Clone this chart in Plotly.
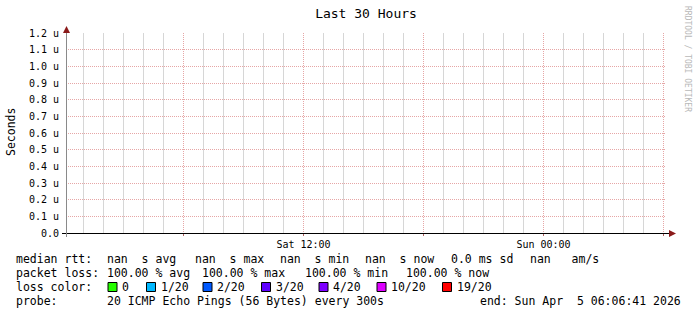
import numpy as np
import pandas as pd
import plotly.graph_objects as go

# ---------------- data ----------------
title_text = "Last 30 Hours"
y_label = "Seconds"
watermark = "RRDTOOL / TOBI OETIKER"

start_time = "2026-04-04 00:07:30"
end_time = "2026-04-05 06:07:30"

# sample times (every 300 s) and median rtt values (all NaN in the picture)
times = pd.date_range("2026-04-04 00:10:00", "2026-04-05 06:05:00", freq="300s")
median_rtt = [np.nan] * len(times)

y_max = 1.2e-6
y_tick_vals = [0.0, 0.1e-6, 0.2e-6, 0.3e-6, 0.4e-6, 0.5e-6, 0.6e-6,
               0.7e-6, 0.8e-6, 0.9e-6, 1.0e-6, 1.1e-6, 1.2e-6]
y_tick_text = ["0.0", "0.1 u", "0.2 u", "0.3 u", "0.4 u", "0.5 u", "0.6 u",
               "0.7 u", "0.8 u", "0.9 u", "1.0 u", "1.1 u", "1.2 u"]

x_tick_vals = ["2026-04-04 06:00", "2026-04-04 12:00", "2026-04-04 18:00",
               "2026-04-05 00:00", "2026-04-05 06:00"]
x_tick_text = ["", "Sat 12:00", "", "Sun 00:00", ""]

row1 = ["median rtt:", "nan  s avg", "nan  s max", "nan  s min",
        "nan  s now", "0.0 ms sd", "nan   am/s"]
row2 = ["packet loss:", "100.00 % avg", "100.00 % max", "100.00 % min",
        "100.00 % now"]
loss_title = "loss color:"
loss_labels = ["0", "1/20", "2/20", "3/20", "4/20", "10/20", "19/20"]
loss_colors = ["#26ff00", "#00b8ff", "#0059ff", "#5e00ff", "#7e00ff",
               "#dd00ff", "#ff0000"]
row4 = ["probe:", "20 ICMP Echo Pings (56 Bytes) every 300s"]
end_text = "end: Sun Apr  5 06:06:41 2026"

# ---------------- layout constants (pixels) ----------------
W, H = 697, 315
PL, PR, PT, PB = 66, 666, 33, 233
FONT = "DejaVu Sans Mono"


def px(x):
    return (x - PL) / (PR - PL)


def py(y):
    return (PB - y) / (PB - PT)


def nb(s):
    return s.replace(" ", "\u00a0")


grid_red = "#e6a6a6"
grid_gray = "#d6d6d6"

# hourly minor grid positions (those not on the 6-hour major grid)
hours = [h.strftime("%Y-%m-%d %H:%M:%S")
         for h in pd.date_range("2026-04-04 01:00", "2026-04-05 06:00", freq="1h")
         if h.hour % 6 != 0]

fig = go.Figure()
fig.add_trace(go.Scatter(x=times, y=median_rtt, mode="lines",
                         line=dict(color="#000000", width=1),
                         showlegend=False, hoverinfo="skip"))

fig.update_layout(
    width=W, height=H,
    margin=dict(l=PL, r=W - PR, t=PT, b=H - PB, pad=0),
    paper_bgcolor="#ffffff", plot_bgcolor="#ffffff",
    font=dict(family=FONT, size=10, color="#000000"),
    showlegend=False,
    title=dict(text=title_text, x=0.5, xref="paper", xanchor="center",
               y=1 - 13.5 / H, yref="container", yanchor="middle",
               font=dict(family=FONT, size=13, color="#000000")),
    xaxis=dict(type="date", range=[start_time, end_time],
               tickmode="array", tickvals=x_tick_vals, ticktext=x_tick_text,
               showgrid=True, gridcolor=grid_red, griddash="1px,1px", gridwidth=1,
               ticks="outside", ticklen=2, tickcolor="#b06060",
               tickfont=dict(family=FONT, size=10, color="#000000"),
               showline=False, zeroline=False),
    yaxis=dict(range=[0, y_max], tickmode="array", tickvals=y_tick_vals,
               ticktext=y_tick_text, showgrid=True, gridcolor=grid_red,
               griddash="1px,1px", gridwidth=1, ticks="", zeroline=False,
               showline=False, ticklabelstandoff=6,
               tickfont=dict(family=FONT, size=10, color="#000000")),
)

shapes = []
# hourly gray grid lines
for h in hours:
    shapes.append(dict(type="line", xref="x", yref="paper", x0=h, x1=h,
                       y0=0, y1=1, line=dict(color=grid_gray, width=1),
                       layer="below"))
shapes.append(dict(type="line", xref="paper", yref="paper",
                   x0=px(62), x1=px(670), y0=py(233.5), y1=py(233.5),
                   line=dict(color="#000000", width=1), layer="above"))
shapes.append(dict(type="line", xref="paper", yref="paper",
                   x0=px(66.5), x1=px(66.5), y0=py(237), y1=py(30),
                   line=dict(color="#8a8a8a", width=1), layer="above"))
arrow_col = "#8b1a1a"
shapes.append(dict(type="path", xref="paper", yref="paper",
                   path="M {} {} L {} {} L {} {} Z".format(px(63), py(33), px(66.5), py(26), px(70), py(33)),
                   fillcolor=arrow_col, line=dict(color=arrow_col, width=0), layer="above"))
shapes.append(dict(type="path", xref="paper", yref="paper",
                   path="M {} {} L {} {} L {} {} Z".format(px(669), py(230), px(676), py(233.5), px(669), py(237)),
                   fillcolor=arrow_col, line=dict(color=arrow_col, width=0), layer="above"))

ann = []
ann.append(dict(text=nb(y_label), x=px(11), y=py(132), xref="paper", yref="paper",
                textangle=-90, showarrow=False, xanchor="center", yanchor="middle",
                font=dict(family=FONT, size=11.5, color="#000000")))
ann.append(dict(text=nb(watermark), x=px(688), y=py(59), xref="paper", yref="paper",
                textangle=90, showarrow=False, xanchor="center", yanchor="middle",
                font=dict(family=FONT, size=8, color="#b8b8b8")))


def add_text(s, x, y, anchor="left"):
    ann.append(dict(text=nb(s), x=px(x), y=py(y), xref="paper", yref="paper",
                    showarrow=False, xanchor=anchor, yanchor="middle",
                    borderpad=0, borderwidth=0,
                    font=dict(family=FONT, size=11.5, color="#000000")))


row1_x = [16, 106.5, 194.5, 279.5, 364.5, 451, 529.5]
for s, x in zip(row1, row1_x):
    add_text(s, x, 259)
row2_x = [16, 106.5, 202, 304.5, 406]
for s, x in zip(row2, row2_x):
    add_text(s, x, 273)
add_text(loss_title, 16, 287)
box_x = [108, 146.5, 203, 261.5, 319, 377, 442.5]
for lab, col, bx in zip(loss_labels, loss_colors, box_x):
    shapes.append(dict(type="rect", xref="paper", yref="paper",
                       x0=px(bx), x1=px(bx + 9), y0=py(291.5), y1=py(282.5),
                       fillcolor=col, line=dict(color="#000000", width=1),
                       layer="above"))
    add_text(lab, bx + 14, 287)
row4_x = [16, 106.5]
for s, x in zip(row4, row4_x):
    add_text(s, x, 301)
add_text(end_text, 681, 301, anchor="right")

fig.update_layout(shapes=shapes, annotations=ann)
fig.write_html("out.html")
